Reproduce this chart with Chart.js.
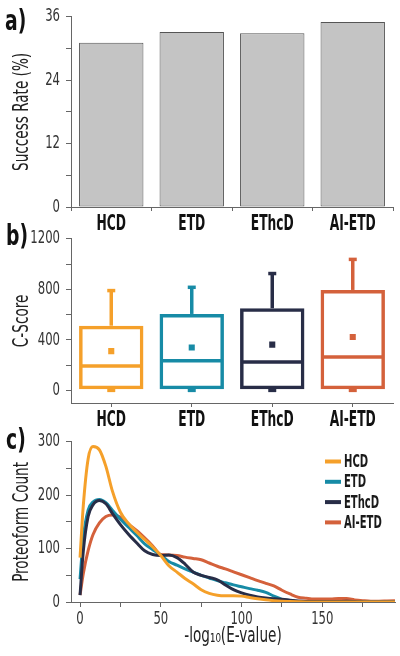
<!DOCTYPE html>
<html><head><meta charset="utf-8">
<script src="https://cdn.jsdelivr.net/npm/chart.js@4/dist/chart.umd.min.js"></script>
<style>
html,body{margin:0;padding:0;background:#fff;width:400px;height:656px;overflow:hidden;}
.wrap{position:absolute;left:0;width:400px;}
canvas{display:block;}
.tag{position:absolute;font-family:'DejaVu Sans Condensed','DejaVu Sans',sans-serif;font-weight:bold;font-size:29px;color:#111;line-height:1;transform:scaleX(0.72);transform-origin:0 0;}
</style></head><body>
<div class="wrap" style="top:0;height:240px"><canvas id="ca" width="400" height="240"></canvas></div>
<div class="wrap" style="top:222px;height:210px"><canvas id="cb" width="400" height="210"></canvas></div>
<div class="wrap" style="top:425px;height:231px"><canvas id="cc" width="400" height="231"></canvas></div>
<div class="tag" style="left:5px;top:6px">a)</div>
<div class="tag" style="left:6px;top:221px">b)</div>
<div class="tag" style="left:6px;top:425px">c)</div>
<script>
// ---------- data ----------
const categories = ['HCD', 'ETD', 'EThcD', 'AI-ETD'];
const successRate = [31.1, 33.1, 32.9, 35.0];
const successTicks = [0, 12, 24, 36];

const cScoreQ1 = [8, 8, 8, 8];
const cScoreQ3 = [512, 605, 650, 795];
const cScoreMedian = [193, 235, 224, 265];
const cScoreMean = [311, 339, 362, 423];
const cScoreWhiskerLow = [0, 0, 0, 0];
const cScoreWhiskerHigh = [790, 816, 925, 1037];
const cScoreTicks = [0, 400, 800, 1200];

const evalueX = [0, 2, 5, 8, 12, 16, 20, 25, 30, 35, 40, 45, 50, 55, 60, 65, 70, 75, 80, 85, 90, 95, 100, 105, 110, 115, 120, 125, 130, 135, 140, 145, 150, 155, 160, 165, 170, 175, 180, 185, 190, 195];
const hcdCounts   = [83, 180, 268, 291, 285, 254, 208, 168, 147, 131, 117, 103, 87, 68, 56, 44, 34, 23, 16, 12.5, 11.5, 11.5, 11, 8.5, 6, 4, 2.5, 1.5, 1, 0.5, 0, 0, 0, 0, 0, 0, 0, 0, 0, 0, 0, 0];
const etdCounts   = [43, 120, 172, 187, 192, 186, 172, 155, 140, 125, 109, 98, 88, 76, 69, 62, 56, 50, 45, 40, 36, 32, 28.5, 25, 22, 18, 11, 5, 2, 1, 0.5, 0.5, 0.5, 0, 0, 0, 0, 0, 0, 0, 0, 0];
const ethcdCounts = [13, 95, 160, 182, 190, 184, 166, 145, 127, 111, 96, 89, 87, 88, 83, 71, 56, 50, 46, 41.5, 32, 23, 17, 12.5, 9.5, 7.5, 6, 5, 3.5, 2, 1, 0.8, 0.8, 0.8, 1, 1.2, 0.8, 0.3, 0, 0, 0, 0];
const aietdCounts = [13, 53, 96, 126, 148, 160, 163, 159, 146, 134, 120, 105, 89, 88, 87, 84, 81.5, 79, 73, 67, 62, 56.5, 51, 45.5, 40, 35, 30, 22, 15, 9, 7, 5.5, 5.5, 5.5, 6.5, 6.5, 4, 2.5, 1.5, 1.5, 2, 2.5];
const evalueTicks = [0, 50, 100, 150];
const countTicks = [0, 100, 200, 300];

// ---------- condensed text rendering (the reference uses a condensed face) ----------
(function () {
  const orig = CanvasRenderingContext2D.prototype.fillText;
  CanvasRenderingContext2D.prototype.fillText = function (t, x, y, mw) {
    const f = /bold|[6-9]00/.test(this.font) ? 0.62 : 0.72;
    const w = this.measureText(t).width * f;
    return orig.call(this, t, x, y, (mw === undefined || mw === null) ? w : Math.min(w, mw));
  };
})();

// ---------- styles ----------
const FONT = "'DejaVu Sans Condensed','DejaVu Sans',sans-serif";
const seriesColors = ['#F5A02A', '#178BA6', '#282D47', '#D4613B'];
const AXIS = '#666';
const tickFont = {family: FONT, size: 18};
const catFont = {family: FONT, size: 22, weight: 'bold'};
const titleFont = {family: FONT, size: 21};

function yAxisBase(min, max, step, shown, title) {
  return {
    min: min, max: max,
    afterBuildTicks(s) {
      const t = [];
      for (let v = Math.max(min, 0); v <= max + 1e-9; v += step) t.push({value: v});
      s.ticks = t;
    },
    ticks: {padding: 6, color: '#333', font: tickFont,
      callback: v => shown.includes(v) ? String(v) : ''},
    grid: {drawOnChartArea: false, drawTicks: true, tickLength: 5, color: AXIS},
    border: {display: true, color: AXIS, width: 1},
    title: {display: true, text: title, color: '#222', font: titleFont, padding: {top: 10, bottom: 0}},
    afterFit(s) { s.width = 71; }
  };
}

const common = {
  responsive: false, animation: false, devicePixelRatio: 1,
  plugins: {legend: {display: false}, tooltip: {enabled: false}}
};

// ---------- a) success rate ----------
new Chart(document.getElementById('ca'), {
  type: 'bar',
  data: {labels: categories, datasets: [{
    data: successRate, backgroundColor: '#C4C4C4', borderColor: '#555', borderWidth: 1,
    borderSkipped: false, barPercentage: 0.8, categoryPercentage: 1.0
  }]},
  options: Object.assign({}, common, {
    layout: {padding: {top: 14, right: 7, left: 0, bottom: 0}},
    scales: {
      x: {ticks: {color: '#111', font: catFont, padding: 0},
          grid: {drawOnChartArea: false, tickLength: 4, color: AXIS, offset: true},
          border: {color: AXIS}, afterFit(s) { s.height = 33; }},
      y: yAxisBase(0, 36, 6, successTicks, 'Success Rate (%)')
    }
  })
});

// ---------- b) C-score box plot ----------
const boxExtras = {
  id: 'boxExtras',
  afterDatasetsDraw(chart) {
    const ctx = chart.ctx, y = chart.scales.y;
    const meta = chart.getDatasetMeta(1);
    ctx.save();
    ctx.lineCap = 'butt';
    categories.forEach((c, i) => {
      const bar = meta.data[i];
      const cx = bar.x, half = bar.width / 2;
      ctx.strokeStyle = seriesColors[i];
      ctx.lineWidth = 3.5;
      const med = y.getPixelForValue(cScoreMedian[i]);
      ctx.beginPath(); ctx.moveTo(cx - half + 1, med); ctx.lineTo(cx + half - 1, med); ctx.stroke();
      const q3 = y.getPixelForValue(cScoreQ3[i]);
      const hi = y.getPixelForValue(cScoreWhiskerHigh[i]);
      ctx.beginPath(); ctx.moveTo(cx, q3); ctx.lineTo(cx, hi); ctx.stroke();
      ctx.beginPath(); ctx.moveTo(cx - 4, hi); ctx.lineTo(cx + 4, hi); ctx.stroke();
      const q1 = y.getPixelForValue(cScoreQ1[i]);
      const lo = y.getPixelForValue(cScoreWhiskerLow[i]);
      ctx.beginPath(); ctx.moveTo(cx, q1); ctx.lineTo(cx, lo); ctx.stroke();
      ctx.beginPath(); ctx.moveTo(cx - 4, lo); ctx.lineTo(cx + 4, lo); ctx.stroke();
    });
    ctx.restore();
  }
};

new Chart(document.getElementById('cb'), {
  type: 'bar',
  data: {labels: categories, datasets: [
    {type: 'line', data: cScoreMean, showLine: false, pointStyle: 'rect', pointRadius: 4.3,
     pointBackgroundColor: seriesColors, pointBorderWidth: 0, order: 0},
    {type: 'bar', data: cScoreQ1.map((q, i) => [q, cScoreQ3[i]]),
     backgroundColor: 'rgba(255,255,255,0)', borderColor: seriesColors, borderWidth: 3.5,
     borderSkipped: false, barPercentage: 0.8, categoryPercentage: 1.0, order: 1}
  ]},
  options: Object.assign({}, common, {
    layout: {padding: {top: 11, right: 7, left: 0, bottom: 0}},
    scales: {
      x: {ticks: {color: '#111', font: catFont, padding: 0},
          grid: {drawOnChartArea: false, tickLength: 4, color: AXIS, offset: false},
          border: {color: AXIS}, afterFit(s) { s.height = 29; }},
      y: yAxisBase(-100, 1200, 200, cScoreTicks, 'C-Score')
    }
  }),
  plugins: [boxExtras]
});

// ---------- c) E-value distributions ----------
const seriesLabels = ['HCD', 'ETD', 'EThcD', 'AI-ETD'];
const seriesCounts = [hcdCounts, etdCounts, ethcdCounts, aietdCounts];
const drawOrder = [0, 2, 1, 3];

const insideLegend = {
  id: 'insideLegend',
  afterDraw(chart) {
    const ctx = chart.ctx;
    ctx.save();
    ctx.font = 'bold 18px ' + FONT;
    ctx.textBaseline = 'middle';
    ctx.textAlign = 'left';
    chart.data.datasets.forEach((ds, i) => {
      const yy = 36.5 + i * 20.3;
      ctx.strokeStyle = ds.borderColor; ctx.lineWidth = 4;
      ctx.beginPath(); ctx.moveTo(325, yy); ctx.lineTo(341, yy); ctx.stroke();
      ctx.fillStyle = '#1a1a1a';
      ctx.fillText(ds.label, 344, yy + 1);
    });
    ctx.restore();
  }
};

new Chart(document.getElementById('cc'), {
  type: 'line',
  data: {datasets: seriesCounts.map((arr, i) => ({
    label: seriesLabels[i],
    data: evalueX.map((x, j) => ({x: x, y: arr[j]})),
    borderColor: seriesColors[i], borderWidth: 3, pointRadius: 0,
    cubicInterpolationMode: 'monotone', fill: false, order: drawOrder[i]
  }))},
  options: Object.assign({}, common, {
    layout: {padding: {top: 13, right: 5, left: 0, bottom: 0}},
    scales: {
      x: {type: 'linear', min: -5.6, max: 195,
          afterBuildTicks(s) { const t = []; for (let v = 0; v <= 175; v += 25) t.push({value: v}); s.ticks = t; },
          ticks: {color: '#333', font: tickFont, padding: 2,
                  callback: v => evalueTicks.includes(v) ? String(v) : ''},
          grid: {drawOnChartArea: false, tickLength: 5, color: AXIS},
          border: {color: AXIS},
          title: {display: true, text: '-log\u2081\u2080(E-value)', color: '#222',
                  font: {family: FONT, size: 21}, padding: {top: 0, bottom: 7}},
          afterFit(s) { s.height = 54; }},
      y: yAxisBase(0, 300, 50, countTicks, 'Proteoform Count')
    }
  }),
  plugins: [insideLegend]
});
</script>
</body></html>
